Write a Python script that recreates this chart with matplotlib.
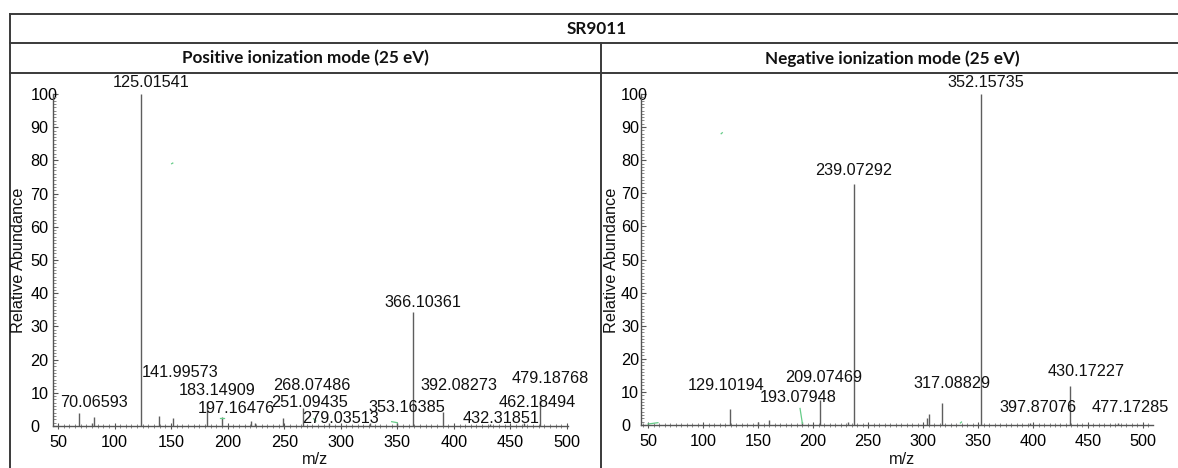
import matplotlib
matplotlib.use('Agg')
import matplotlib.pyplot as plt
from matplotlib.ticker import MultipleLocator
from matplotlib.lines import Line2D

plt.rcParams['font.family'] = ['Liberation Sans', 'DejaVu Sans']

# ---------------- data ----------------
main_title = "SR9011"
panel_titles = ["Positive ionization mode (25 eV)", "Negative ionization mode (25 eV)"]
x_label = "m/z"
y_label = "Relative Abundance"
x_ticks = [50, 100, 150, 200, 250, 300, 350, 400, 450, 500]
y_ticks = [0, 10, 20, 30, 40, 50, 60, 70, 80, 90, 100]

# positive mode peaks (m/z, relative abundance)
pos_mz = [68.6, 80.0, 82.1, 123.1, 139.6, 152.0, 181.7, 195.0, 220.6, 224.0,
          249.0, 266.6, 290.0, 326.0, 350.0, 364.0, 390.0, 432.0, 462.0, 476.0]
pos_int = [3.9, 1.0, 2.8, 100.0, 3.0, 2.4, 7.3, 2.8, 1.5, 1.0,
           2.5, 5.4, 1.0, 0.8, 1.0, 34.3, 4.2, 0.6, 0.8, 7.8]
# positive mode annotations
pos_lab_text = ["125.01541", "70.06593", "141.99573", "183.14909", "197.16476",
                "268.07486", "251.09435", "279.03513", "353.16385", "366.10361",
                "392.08273", "432.31851", "462.18494", "479.18768"]
pos_lab_x = [132.2, 81.8, 157.9, 190.6, 207.4, 274.6, 272.0, 300.0, 358.6, 372.6,
             404.5, 441.7, 473.5, 485.0]
pos_lab_y = [103.6, 7.2, 16.0, 10.8, 5.4, 12.3, 7.2, 2.4, 5.7, 37.3,
             12.3, 2.4, 7.2, 14.2]

# negative mode peaks
neg_mz = [124.5, 150.0, 160.0, 190.3, 206.4, 232.0, 237.3, 304.0, 305.5, 317.3,
          352.7, 397.0, 433.3, 477.0]
neg_int = [4.8, 0.8, 1.5, 1.0, 7.5, 1.0, 72.8, 2.2, 3.3, 6.6,
           100.0, 0.5, 11.8, 0.5]
neg_lab_text = ["129.10194", "193.07948", "209.07469", "239.07292", "352.15735",
                "317.08829", "397.87076", "430.17227", "477.17285"]
neg_lab_x = [120.9, 186.4, 210.0, 237.0, 357.3, 326.4, 404.5, 448.2, 488.2]
neg_lab_y = [11.8, 8.2, 14.2, 77.0, 103.6, 12.4, 5.4, 16.3, 5.4]

# small green trace fragments
pos_green_x = [[193.0, 197.0], [276.0, 278.0], [345.0, 350.0], [150.5, 151.5]]
pos_green_y = [[2.5, 2.5], [2.2, 1.5], [1.3, 1.0], [79.0, 79.2]]
neg_green_x = [[50.0, 59.0], [188.2, 190.3], [334.0, 335.0], [116.5, 117.5]]
neg_green_y = [[0.3, 0.7], [5.0, 0.5], [0.6, 0.9], [88.0, 88.3]]

# ---------------- figure ----------------
W, H = 1178, 468
fig = plt.figure(figsize=(W / 100, H / 100), dpi=100)


def fx(px):
    return px / W


def fy(py):
    return 1 - py / H


line_kw = dict(color='#3a3a3a', lw=1.4, transform=fig.transFigure)
for yy in [14, 43, 73]:
    fig.add_artist(Line2D([fx(10), 1.0], [fy(yy), fy(yy)], **line_kw))
fig.add_artist(Line2D([fx(10), fx(10)], [fy(14), 0.0], **line_kw))
fig.add_artist(Line2D([fx(601), fx(601)], [fy(43), 0.0], **line_kw))

head_font = dict(family=['Lato', 'DejaVu Sans'], fontweight='bold', fontsize=12.3,
                 ha='center', va='center', color='#111111')
fig.text(fx(597), fy(29.5), main_title, **head_font)
fig.text(fx(305), fy(58.5), panel_titles[0], **head_font)
fig.text(fx(892), fy(58.5), panel_titles[1], **head_font)

panels = [
    dict(box=(53, 568, 94, 426), xlim=(45.6, 500.9), mz=pos_mz, it=pos_int,
         lt=pos_lab_text, lx=pos_lab_x, ly=pos_lab_y, gx=pos_green_x, gy=pos_green_y,
         ylab_x=19, xlab_x=315, ypad=16.3),
    dict(box=(641, 1153, 94, 425), xlim=(43.6, 509.1), mz=neg_mz, it=neg_int,
         lt=neg_lab_text, lx=neg_lab_x, ly=neg_lab_y, gx=neg_green_x, gy=neg_green_y,
         ylab_x=611, xlab_x=902, ypad=14.4),
]

for p in panels:
    x0, x1, ytop, ybot = p['box']
    ax = fig.add_axes([fx(x0), fy(ybot), (x1 - x0) / W, (ybot - ytop) / H])
    ax.set_xlim(*p['xlim'])
    ax.set_ylim(0, 100)
    for s in ['top', 'right']:
        ax.spines[s].set_visible(False)
    for s in ['left', 'bottom']:
        ax.spines[s].set_color('#555555')
        ax.spines[s].set_linewidth(1.0)
    ax.vlines(p['mz'], 0, p['it'], color='#5e5e5e', lw=1.0)
    for gx, gy in zip(p['gx'], p['gy']):
        ax.plot(gx, gy, color='#66cc88', lw=0.9)
    for t, lx, ly in zip(p['lt'], p['lx'], p['ly']):
        ax.text(lx, ly, t, ha='center', va='center', fontsize=11.7, color='#111111',
                clip_on=False)
    ax.set_xticks(x_ticks)
    ax.set_yticks(y_ticks)
    ax.xaxis.set_minor_locator(MultipleLocator(5))
    ax.yaxis.set_minor_locator(MultipleLocator(1))
    ax.tick_params(axis='x', which='major', direction='inout', length=4, width=0.8,
                   color='#555555', labelsize=11.7, pad=4.5)
    ax.tick_params(axis='x', which='minor', direction='inout', length=2.5, width=0.6,
                   color='#777777')
    ax.tick_params(axis='y', which='major', direction='in', length=3.5, width=0.8,
                   color='#555555', labelsize=11.7, pad=p['ypad'])
    ax.tick_params(axis='y', which='minor', direction='in', length=2, width=0.6,
                   color='#777777')
    for lab in ax.get_yticklabels():
        lab.set_horizontalalignment('left')
    fig.text(fx(p['ylab_x']), fy(260), y_label, rotation=90, ha='center', va='center',
             fontsize=11.7, color='#111111')
    fig.text(fx(p['xlab_x']), fy(460), x_label, ha='center', va='center',
             fontsize=11.7, color='#111111')

fig.savefig('out.png', dpi=100)
